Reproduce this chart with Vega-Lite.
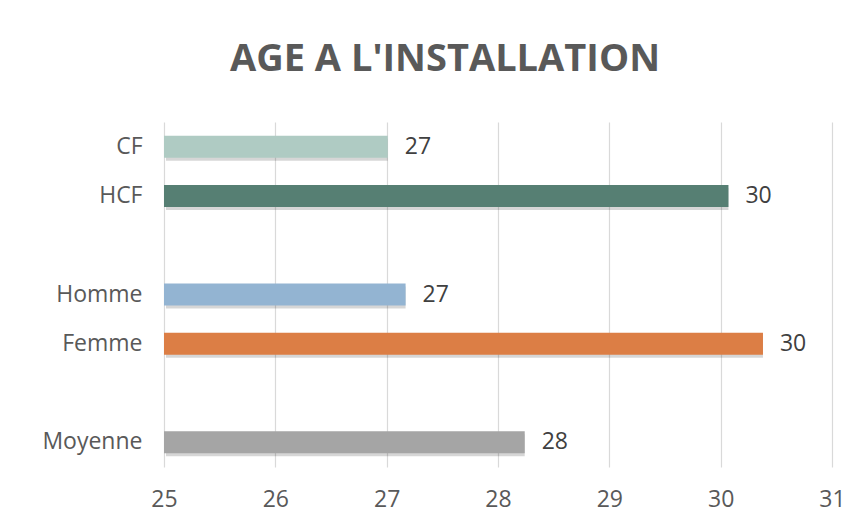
{
  "$schema": "https://vega.github.io/schema/vega-lite/v6.json",
  "autosize": {"type": "none"},
  "width": 668,
  "height": 345,
  "padding": {"left": 164, "top": 122, "right": 32, "bottom": 64},
  "background": "white",
  "title": {
    "text": "AGE A L'INSTALLATION",
    "font": "Open Sans",
    "fontSize": 38,
    "fontWeight": "bold",
    "color": "#595959",
    "anchor": "middle",
    "frame": "group",
    "baseline": "alphabetic",
    "offset": 13,
    "dx": -53
  },
  "config": {
    "view": {"stroke": null},
    "font": "Open Sans"
  },
  "data": {
    "values": [
      {"groupe": "CF", "age": 27.01},
      {"groupe": "HCF", "age": 30.07},
      {"groupe": "Homme", "age": 27.17},
      {"groupe": "Femme", "age": 30.38},
      {"groupe": "Moyenne", "age": 28.24}
    ]
  },
  "encoding": {
    "y": {
      "field": "groupe",
      "type": "nominal",
      "scale": {"domain": ["CF", "HCF", "g1", "Homme", "Femme", "g2", "Moyenne"], "paddingInner": 0, "paddingOuter": 0},
      "axis": {
        "title": null,
        "labelExpr": "datum.label == 'g1' || datum.label == 'g2' ? '' : datum.label",
        "ticks": false,
        "domain": false,
        "grid": false,
        "labelFont": "Open Sans",
        "labelFontSize": 23,
        "labelColor": "#595959",
        "labelPadding": 22
      }
    }
  },
  "layer": [
    {
      "mark": {"type": "bar", "size": 22, "color": "#000000", "opacity": 0.16, "yOffset": 3, "x2Offset": 2},
      "encoding": {
        "x": {"field": "age", "type": "quantitative", "scale": {"domain": [25, 31], "nice": false, "zero": false},
          "axis": {
            "title": null,
            "values": [25, 26, 27, 28, 29, 30, 31],
            "format": "d",
            "grid": true,
            "gridColor": "#d9d9d9",
            "gridWidth": 1.2,
            "domain": false,
            "ticks": false,
            "labelFlush": false,
            "labelFont": "Open Sans",
            "labelFontSize": 23,
            "labelColor": "#595959",
            "labelPadding": 21
          }},
        "x2": {"datum": 25}
      }
    },
    {
      "mark": {"type": "bar", "size": 22},
      "encoding": {
        "x": {"field": "age", "type": "quantitative"},
        "x2": {"datum": 25},
        "color": {
          "field": "groupe",
          "type": "nominal",
          "scale": {
            "domain": ["CF", "HCF", "Homme", "Femme", "Moyenne"],
            "range": ["#afcbc3", "#567f73", "#93b4d2", "#dc7e45", "#a5a5a5"]
          },
          "legend": null
        }
      }
    },
    {
      "mark": {"type": "text", "align": "left", "baseline": "middle", "dx": 17, "font": "Open Sans", "fontSize": 23, "color": "#404040"},
      "encoding": {
        "x": {"field": "age", "type": "quantitative"},
        "text": {"field": "age", "type": "quantitative", "format": ".0f"}
      }
    }
  ]
}
